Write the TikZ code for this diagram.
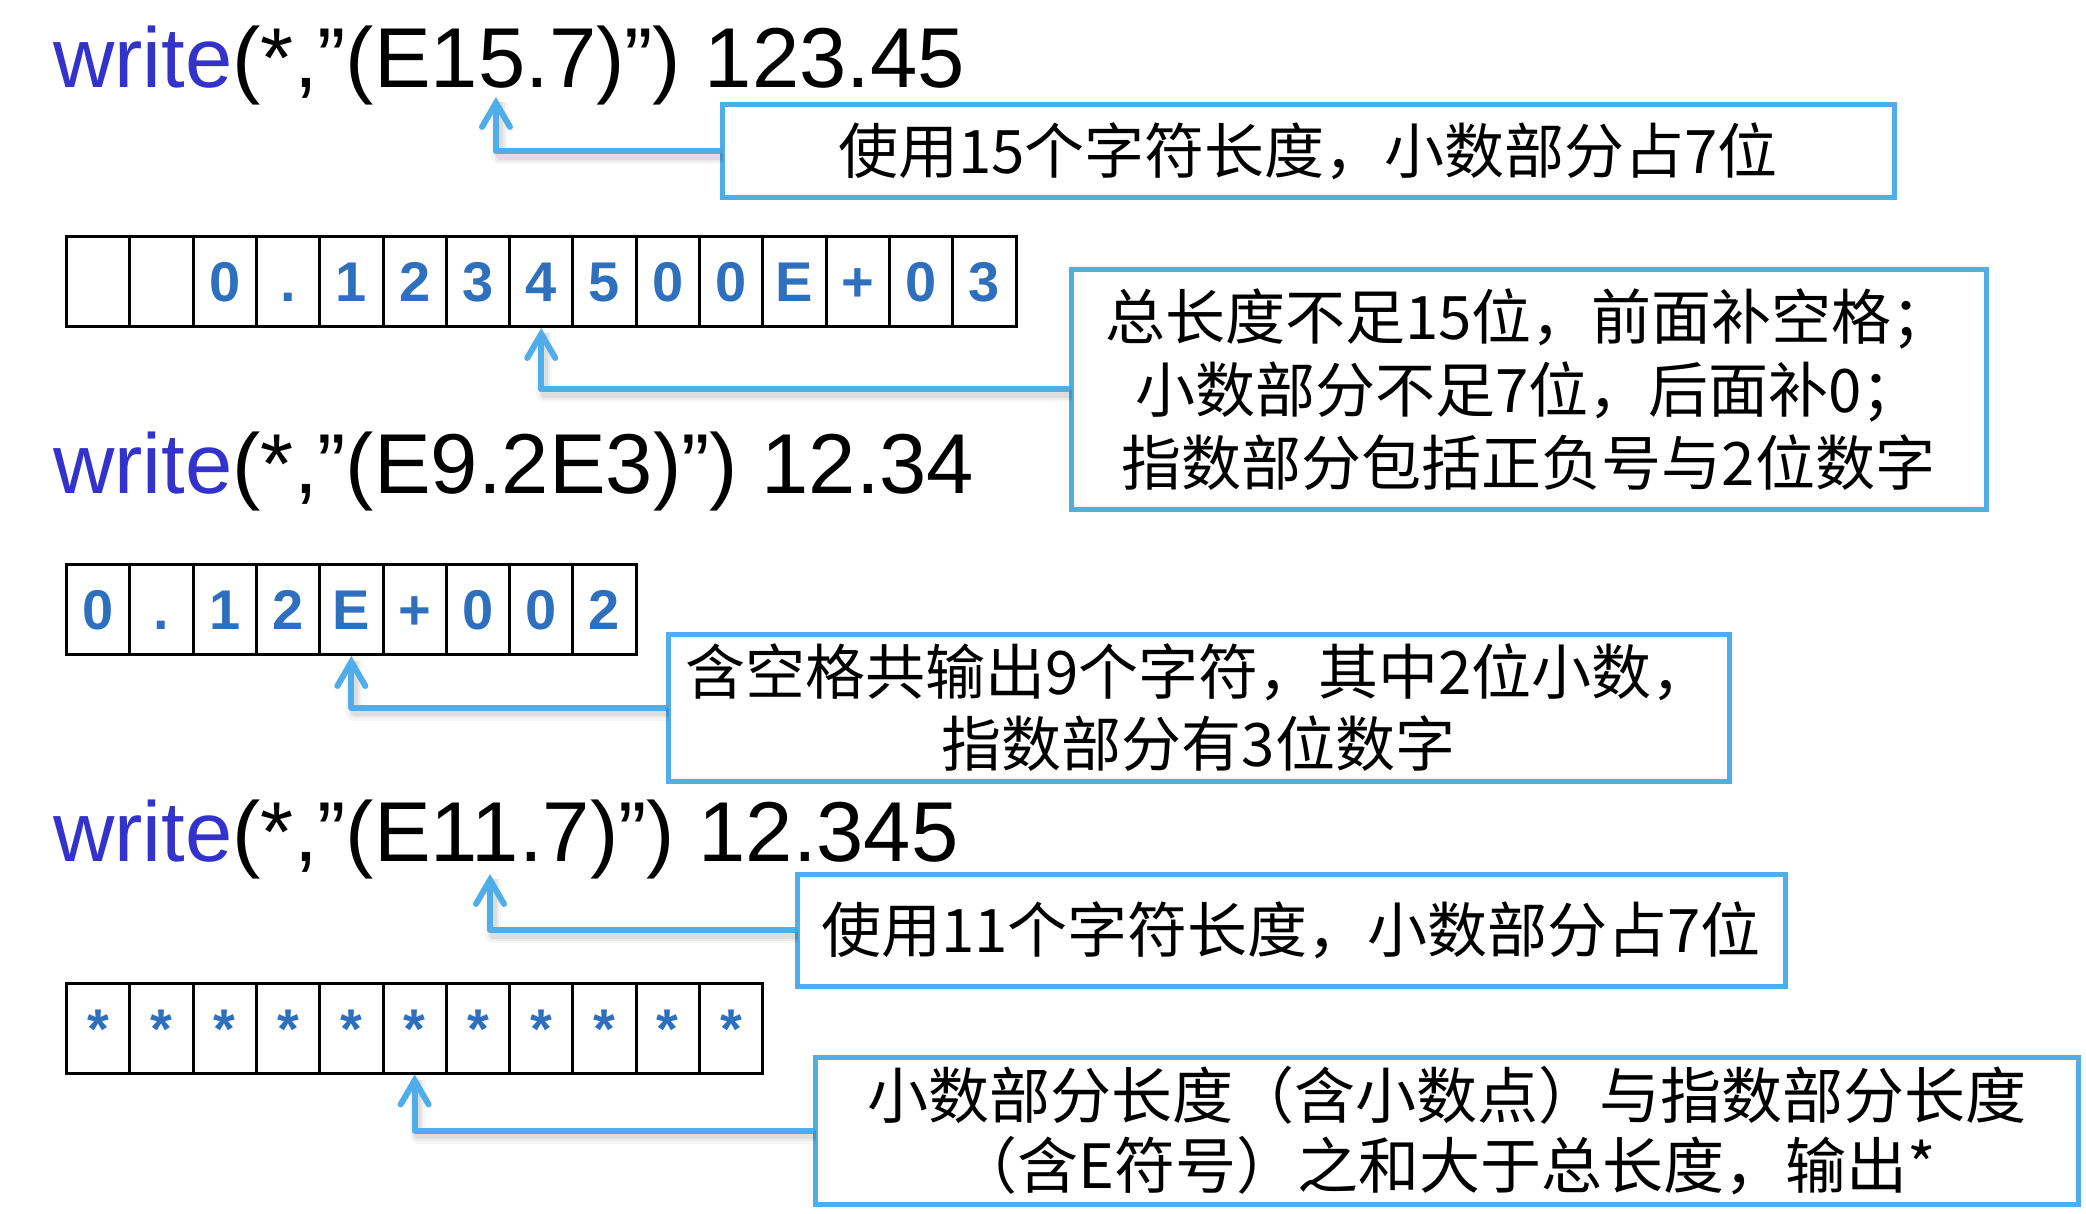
\documentclass[tikz,border=0pt]{standalone}
\usepackage{fontspec}
\setmainfont{Liberation Sans}
\newfontfamily\cjk{Noto Sans CJK SC}
\usetikzlibrary{arrows.meta}
\definecolor{callblue}{RGB}{79,173,234}
\definecolor{cellblue}{RGB}{47,112,190}
\definecolor{kwblue}{RGB}{51,51,204}
\begin{document}
\begin{tikzpicture}[x=1pt,y=-1pt,
  code/.style={anchor=base west, inner sep=0pt, font=\fontsize{85}{100}\selectfont},
  cell/.style={draw=black, line width=3pt, minimum width=63.3pt, minimum height=90pt, inner sep=0pt,
    text height=40pt, text depth=0pt, font=\fontsize{56}{60}\selectfont\bfseries, text=cellblue},
  callout/.style={draw=callblue, line width=5pt, inner sep=0pt, align=center,
    font=\cjk\fontsize{60}{73}\selectfont},
  arr/.style={draw=callblue, line width=6pt, line join=round,
    -{Straight Barb[length=24pt,width=28pt,line cap=round]}},
  shadowline/.style={draw=black, line join=round}
]
\useasboundingbox[fill=white] (0,0) rectangle (2086,1214);

% code lines
\node[code] (w1) at (53,88) {{\color{kwblue}write}(*,”(E15.7)”) 123.45};
\node[code] (w2) at (53,493) {{\color{kwblue}write}(*,”(E9.2E3)”) 12.34};
\node[code] (w3) at (53,861) {{\color{kwblue}write}(*,”(E11.7)”) 12.345};

% cells
\foreach \c [count=\i from 0] in {{},{},0,{.},1,2,3,4,5,0,0,E,+,0,3}
  \node[cell] (ra\i) at ({66.5+63.3*(\i+0.5)},281.5) {\c};
\foreach \c [count=\i from 0] in {0,{.},1,2,E,+,0,0,2}
  \node[cell] (rb\i) at ({66.5+63.3*(\i+0.5)},609.5) {\c};
\foreach \i in {0,...,10}
  \node[cell] (rc\i) at ({66.5+63.3*(\i+0.5)},1028) {*};

% callouts
\node[callout, minimum width=1172pt, minimum height=93pt] (b1) at (1308,151.5)
  {使用15个字符长度，小数部分占7位};
\node[callout, minimum width=915pt, minimum height=239pt] (b2) at (1528.5,389.5)
  {总长度不足15位，前面补空格；\\小数部分不足7位，后面补0；\\指数部分包括正负号与2位数字};
\node[callout, minimum width=1061pt, minimum height=147pt, font=\cjk\fontsize{60}{72}\selectfont] (b3) at (1198.5,707.5)
  {含空格共输出9个字符，其中2位小数，\\指数部分有3位数字};
\node[callout, minimum width=988pt, minimum height=112pt] (b4) at (1291,930)
  {使用11个字符长度，小数部分占7位};
\node[callout, minimum width=1263pt, minimum height=147pt, font=\cjk\fontsize{61}{70}\selectfont] (b5) at (1446.5,1130.5)
  {小数部分长度（含小数点）与指数部分长度\\（含E符号）之和大于总长度，输出*};

% arrow tips on the code lines
\coordinate (t1) at (496,97);
\coordinate (t4) at (490,874);

% shadows
\foreach \w/\o in {16/0.035,11/0.045,7/0.06}{
  \draw[shadowline, line width=\w pt, opacity=\o] ([shift={(3,5)}]b1.west) -| ([shift={(3,5)}]t1);
  \draw[shadowline, line width=\w pt, opacity=\o] ([shift={(3,5)}]b2.west) -| ([shift={(3,5)}]ra7.south);
  \draw[shadowline, line width=\w pt, opacity=\o] ([shift={(3,5)}]b3.west) -| ([shift={(3,5)}]rb4.south);
  \draw[shadowline, line width=\w pt, opacity=\o] ([shift={(3,5)}]b4.west) -| ([shift={(3,5)}]t4);
  \draw[shadowline, line width=\w pt, opacity=\o] ([shift={(3,5)}]b5.west) -| ([shift={(3,5)}]rc5.south);
}

% arrows
\draw[arr] (b1.west) -| (t1);
\draw[arr] (b2.west) -| (ra7.south);
\draw[arr] (b3.west) -| (rb4.south);
\draw[arr] (b4.west) -| (t4);
\draw[arr] (b5.west) -| (rc5.south);
\end{tikzpicture}
\end{document}
